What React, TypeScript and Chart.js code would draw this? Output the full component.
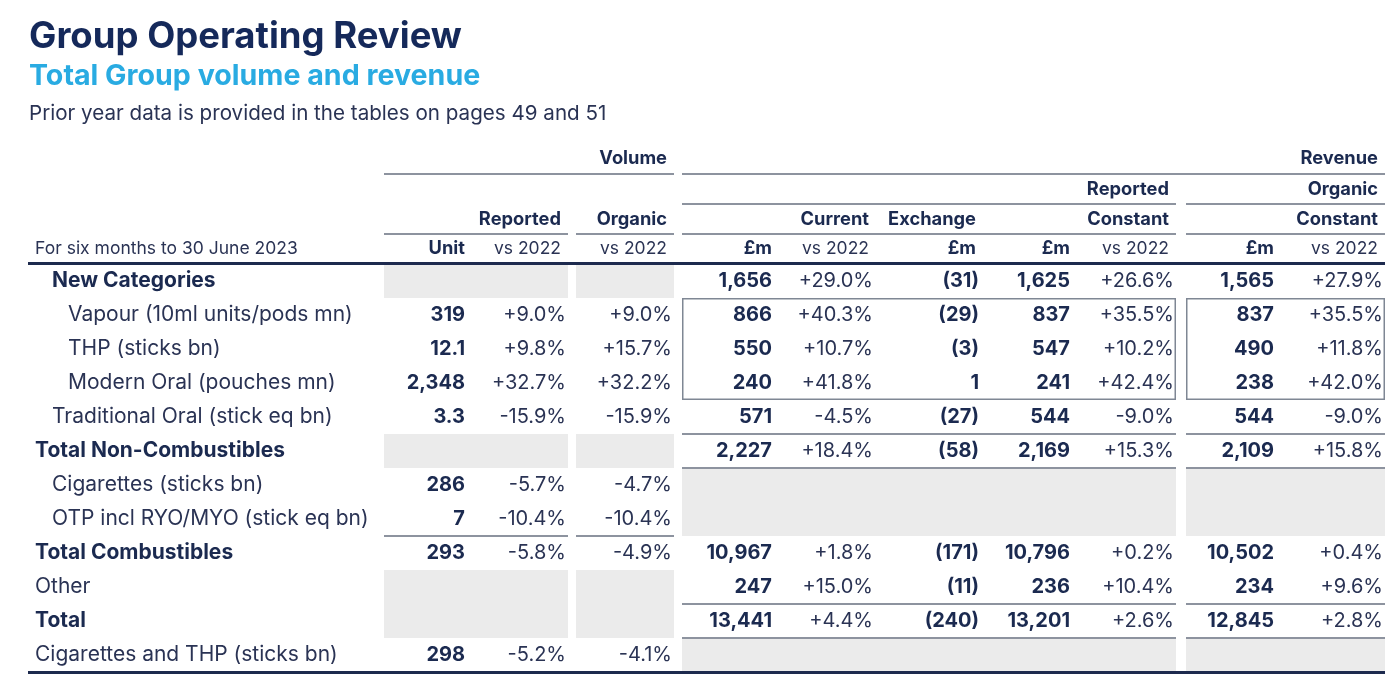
import React, { useEffect, useRef } from 'react';
import { Chart, registerables } from 'chart.js';
Chart.register(...registerables);

// ---------- DATA ----------
const titleText = 'Group Operating Review';
const subtitleText = 'Total Group volume and revenue';
const noteText = 'Prior year data is provided in the tables on pages 49 and 51';
const periodLabel = 'For six months to 30 June 2023';

const rowLabels = [
  'New Categories',
  'Vapour (10ml units/pods mn)',
  'THP (sticks bn)',
  'Modern Oral (pouches mn)',
  'Traditional Oral (stick eq bn)',
  'Total Non-Combustibles',
  'Cigarettes (sticks bn)',
  'OTP incl RYO/MYO (stick eq bn)',
  'Total Combustibles',
  'Other',
  'Total',
  'Cigarettes and THP (sticks bn)',
];
const rowLevel = [1, 2, 2, 2, 1, 0, 1, 1, 0, 0, 0, 0];
const rowBold = [true, false, false, false, false, true, false, false, true, false, true, false];

const volumeUnit = [null, 319, 12.1, 2348, 3.3, null, 286, 7, 293, null, null, 298];
const volumeReportedVs = [null, 9.0, 9.8, 32.7, -15.9, null, -5.7, -10.4, -5.8, null, null, -5.2];
const volumeOrganicVs = [null, 9.0, 15.7, 32.2, -15.9, null, -4.7, -10.4, -4.9, null, null, -4.1];
const revenueCurrent = [1656, 866, 550, 240, 571, 2227, null, null, 10967, 247, 13441, null];
const revenueCurrentVs = [29.0, 40.3, 10.7, 41.8, -4.5, 18.4, null, null, 1.8, 15.0, 4.4, null];
const exchangeImpact = [-31, -29, -3, 1, -27, -58, null, null, -171, -11, -240, null];
const revenueConstant = [1625, 837, 547, 241, 544, 2169, null, null, 10796, 236, 13201, null];
const revenueConstantVs = [26.6, 35.5, 10.2, 42.4, -9.0, 15.3, null, null, 0.2, 10.4, 2.6, null];
const organicConstant = [1565, 837, 490, 238, 544, 2109, null, null, 10502, 234, 12845, null];
const organicConstantVs = [27.9, 35.5, 11.8, 42.0, -9.0, 15.8, null, null, 0.4, 9.6, 2.8, null];

const groupHeaders = ['Volume', 'Revenue'];
const headerRow2 = ['', '', 'Reported', 'Organic'];
const headerRow3 = ['Reported', 'Organic', 'Current', 'Exchange', 'Constant', 'Constant'];
const unitHeaders = ['Unit', 'vs 2022', 'vs 2022', '£m', 'vs 2022', '£m', '£m', 'vs 2022', '£m', 'vs 2022'];

const grayVolumeRows = [0, 5, 9, 10];
const grayRevenueRows = [6, 7, 11];
const boxedRows = [1, 3];

// ---------- LAYOUT / STYLE ----------
const W = 1400;
const H = 692;
const TABLE_LEFT = 28;
const TABLE_RIGHT = 1385;
const FONT = 'Inter, "Noto Sans", sans-serif';
const NAVY = '#15295a';
const TEXT_BOLD = '#1b2a50';
const TEXT_REG = '#2a3354';
const CYAN = '#29abe2';
const LINE = '#8d939f';
const FILL = '#ebebeb';

// column groups (x spans in table units)
const GROUP_VR: [number, number] = [384, 568];
const GROUP_VO: [number, number] = [576, 674];
const GROUP_RR: [number, number] = [682, 1176];
const GROUP_RO: [number, number] = [1186, 1385];

type Col = { values: (number | null)[]; right: number; headRight: number; bold: boolean; kind: 'num' | 'pct' | 'paren' };
const columns: Col[] = [
  { values: volumeUnit, right: 465, headRight: 465, bold: true, kind: 'num' },
  { values: volumeReportedVs, right: 566, headRight: 561, bold: false, kind: 'pct' },
  { values: volumeOrganicVs, right: 672, headRight: 667, bold: false, kind: 'pct' },
  { values: revenueCurrent, right: 772, headRight: 772, bold: true, kind: 'num' },
  { values: revenueCurrentVs, right: 873, headRight: 869, bold: false, kind: 'pct' },
  { values: exchangeImpact, right: 979, headRight: 976, bold: true, kind: 'paren' },
  { values: revenueConstant, right: 1070, headRight: 1070, bold: true, kind: 'num' },
  { values: revenueConstantVs, right: 1174, headRight: 1169, bold: false, kind: 'pct' },
  { values: organicConstant, right: 1274, headRight: 1274, bold: true, kind: 'num' },
  { values: organicConstantVs, right: 1383, headRight: 1378, bold: false, kind: 'pct' },
];

function fmt(v: number | null, kind: string): string {
  if (v === null || v === undefined) return '';
  if (kind === 'pct') return (v >= 0 ? '+' : '-') + Math.abs(v).toFixed(1) + '%';
  if (kind === 'paren') {
    const s = Math.abs(v).toLocaleString('en-GB', { maximumFractionDigits: 1 });
    return v < 0 ? '(' + s + ')' : s;
  }
  return v.toLocaleString('en-GB', { maximumFractionDigits: 1 });
}

const grayDataset = (rows: number[], span: [number, number]) => ({
  data: rows.map((r) => ({ y: rowLabels[r], x: [span[0], span[1]] })),
  backgroundColor: FILL,
  borderWidth: 0,
  barPercentage: 1,
  categoryPercentage: 1,
  grouped: false,
  inflateAmount: 0,
});

const tablePlugin = {
  id: 'tableText',
  afterDatasetsDraw(chart: any) {
    const { ctx, chartArea, scales } = chart;
    const xs = scales.x;
    const ys = scales.y;
    const X = (v: number) => xs.getPixelForValue(v);
    const band = ys.getPixelForValue(1) - ys.getPixelForValue(0);
    const rowC = (i: number) => ys.getPixelForValue(i);
    const rowTop = (i: number) => rowC(i) - band / 2;
    const top = chartArea.top;

    const hline = (span: [number, number], y: number, w = 2, color = LINE) => {
      ctx.fillStyle = color;
      ctx.fillRect(X(span[0]), Math.round(y - w / 2), X(span[1]) - X(span[0]), w);
    };
    const text = (s: string, x: number, y: number, font: string, color: string, align: CanvasTextAlign) => {
      ctx.font = font;
      ctx.fillStyle = color;
      ctx.textAlign = align;
      ctx.textBaseline = 'middle';
      ctx.fillText(s, x, y);
    };

    ctx.save();
    // ---- titles ----
    ctx.textBaseline = 'alphabetic';
    ctx.textAlign = 'left';
    ctx.font = `bold 36.5px ${FONT}`;
    ctx.fillStyle = NAVY;
    ctx.fillText(titleText, 29, 48);
    ctx.font = `bold 28.6px ${FONT}`;
    ctx.fillStyle = CYAN;
    ctx.fillText(subtitleText, 29, 85);
    ctx.font = `20.6px ${FONT}`;
    ctx.fillStyle = TEXT_REG;
    ctx.fillText(noteText, 29, 120);

    // ---- header lines ----
    hline([GROUP_VR[0], GROUP_VO[1]], top - 90);
    hline([GROUP_RR[0], GROUP_RO[1]], top - 90);
    hline(GROUP_RR, top - 60);
    hline(GROUP_RO, top - 60);
    [GROUP_VR, GROUP_VO, GROUP_RR, GROUP_RO].forEach((g) => hline(g, top - 30));
    hline([TABLE_LEFT, TABLE_RIGHT], top - 1, 3, '#1d2a4e');

    // ---- header texts ----
    const hb = `bold 18.3px ${FONT}`;
    const hr = `17.5px ${FONT}`;
    text(groupHeaders[0], X(columns[2].headRight), top - 105, hb, TEXT_BOLD, 'right');
    text(groupHeaders[1], X(columns[9].headRight), top - 105, hb, TEXT_BOLD, 'right');
    text(headerRow2[2], X(columns[7].headRight), top - 74, hb, TEXT_BOLD, 'right');
    text(headerRow2[3], X(columns[9].headRight), top - 74, hb, TEXT_BOLD, 'right');
    text(headerRow3[0], X(columns[1].headRight), top - 44, hb, TEXT_BOLD, 'right');
    text(headerRow3[1], X(columns[2].headRight), top - 44, hb, TEXT_BOLD, 'right');
    text(headerRow3[2], X(columns[4].headRight), top - 44, hb, TEXT_BOLD, 'right');
    text(headerRow3[3], X(columns[5].headRight), top - 44, hb, TEXT_BOLD, 'right');
    text(headerRow3[4], X(columns[7].headRight), top - 44, hb, TEXT_BOLD, 'right');
    text(headerRow3[5], X(columns[9].headRight), top - 44, hb, TEXT_BOLD, 'right');
    text(periodLabel, X(TABLE_LEFT + 7), top - 15, hr, TEXT_REG, 'left');
    unitHeaders.forEach((h, i) => {
      const isBold = columns[i].bold;
      text(h, X(columns[i].headRight), top - 15, isBold ? hb : hr, isBold ? TEXT_BOLD : TEXT_REG, 'right');
    });

    // ---- body lines ----
    hline(GROUP_RR, rowTop(5));
    hline(GROUP_RO, rowTop(5));
    hline(GROUP_RR, rowTop(6));
    hline(GROUP_RO, rowTop(6));
    hline(GROUP_VR, rowTop(8));
    hline(GROUP_VO, rowTop(8));
    hline(GROUP_RR, rowTop(10));
    hline(GROUP_RO, rowTop(10));
    hline(GROUP_RR, rowTop(11));
    hline(GROUP_RO, rowTop(11));
    hline([TABLE_LEFT, TABLE_RIGHT], chartArea.bottom, 3, '#1d2a4e');

    // boxes
    ctx.strokeStyle = '#7f8794';
    ctx.lineWidth = 1.5;
    const by0 = rowTop(boxedRows[0]);
    const by1 = rowTop(boxedRows[1]) + band;
    [GROUP_RR, GROUP_RO].forEach((g) => {
      ctx.strokeRect(X(g[0]) + 0.75, by0 + 0.75, X(g[1]) - X(g[0]) - 1.5, by1 - by0 - 1.5);
    });

    // ---- body texts ----
    const indents = [35, 52, 68];
    rowLabels.forEach((lab, i) => {
      const cy = rowC(i);
      text(lab, X(indents[rowLevel[i]]), cy, `${rowBold[i] ? 'bold ' : ''}21px ${FONT}`, rowBold[i] ? TEXT_BOLD : TEXT_REG, 'left');
      columns.forEach((c) => {
        const s = fmt(c.values[i], c.kind);
        if (!s) return;
        text(s, X(c.right), cy, `${c.bold ? 'bold ' : ''}20px ${FONT}`, c.bold ? TEXT_BOLD : TEXT_REG, 'right');
      });
    });
    ctx.restore();
  },
};

export default function App() {
  const ref = useRef<HTMLCanvasElement>(null);
  useEffect(() => {
    if (!ref.current) return;
    const chart = new Chart(ref.current, {
      type: 'bar',
      data: {
        labels: rowLabels,
        datasets: [
          grayDataset(grayVolumeRows, GROUP_VR),
          grayDataset(grayVolumeRows, GROUP_VO),
          grayDataset(grayRevenueRows, GROUP_RR),
          grayDataset(grayRevenueRows, GROUP_RO),
        ] as any,
      },
      options: {
        indexAxis: 'y',
        animation: false,
        responsive: false,
        events: [],
        layout: { padding: { left: TABLE_LEFT, right: W - TABLE_RIGHT, top: 264, bottom: H - 672 } },
        scales: {
          x: { type: 'linear', min: TABLE_LEFT, max: TABLE_RIGHT, display: false },
          y: { type: 'category', display: false, offset: true },
        },
        plugins: { legend: { display: false }, tooltip: { enabled: false }, title: { display: false } },
      } as any,
      plugins: [tablePlugin],
    });
    return () => chart.destroy();
  }, []);
  return (
    <div style={{ position: 'fixed', left: 0, top: 0, width: W, height: H, background: '#fff' }}>
      <canvas ref={ref} width={W} height={H} style={{ display: 'block' }} />
    </div>
  );
}
